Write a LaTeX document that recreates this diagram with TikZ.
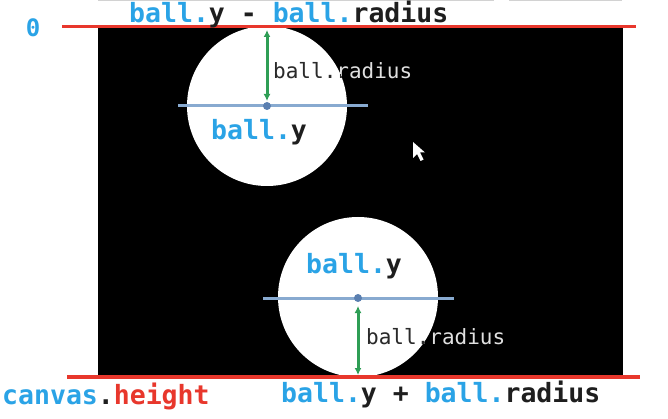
\documentclass[tikz,border=0pt]{standalone}
\usepackage{fontspec}
\setmonofont{DejaVu Sans Mono}
\usetikzlibrary{arrows.meta}
\definecolor{cblue}{HTML}{2AA3E6}
\definecolor{cred}{HTML}{E8372C}
\definecolor{cgreen}{HTML}{2E9E55}
\definecolor{cline}{HTML}{88AAD0}
\definecolor{cdot}{HTML}{5A7FB0}
\definecolor{ctext}{HTML}{1E1E1E}
\definecolor{dgray}{HTML}{2A2A2A}
\definecolor{lgray}{HTML}{E0E0E0}
\tikzset{
  ballshape/.style={circle, fill=white, draw=none, inner sep=0pt, minimum size=160pt},
  redline/.style={draw=cred, line width=3.5pt},
  bline/.style={draw=cline, line width=3pt},
  garrow/.style={draw=cgreen, line width=3pt, arrows={Latex[length=7pt,width=7pt]-Latex[length=7pt,width=7pt]}},
  biglbl/.style={inner sep=0pt, text=ctext, font=\ttfamily\bfseries\fontsize{26.5}{30}\selectfont},
  smalllbl/.style={inner sep=0pt, font=\ttfamily\fontsize{21}{24}\selectfont},
}
\begin{document}
\begin{tikzpicture}[x=1pt,y=-1pt]
\useasboundingbox (0,0) rectangle (668,419);
\fill[white] (0,0) rectangle (668,419);
% faint cut-off boxes at top
\draw[gray!35, line width=1pt] (98,0.5) -- (494,0.5);
\draw[gray!35, line width=1pt] (509,0.5) -- (622,0.5);
% canvas
\fill[black] (98,27) rectangle (623,376);
% balls
\node[ballshape] (b1) at (267,106) {};
\node[ballshape] (b2) at (358,297) {};
% red boundary lines
\coordinate (t0) at (62,26.5);
\coordinate (t1) at (636,26.5);
\coordinate (u0) at (67,377);
\coordinate (u1) at (640,377);
\draw[redline] (t0) -- (t1);
\draw[redline] (u0) -- (u1);
% blue center lines
\coordinate (l1a) at (178,106);
\coordinate (l1b) at (368,106);
\coordinate (l2a) at (263,298);
\coordinate (l2b) at (454,298);
\draw[bline] (l1a) -- (l1b);
\draw[bline] (l2a) -- (l2b);
\fill[cdot] (b1.center) circle (4pt);
\fill[cdot] (358,298) circle (4pt);
% green radius arrows
\coordinate (g1a) at (267,30);
\coordinate (g1b) at (267,101);
\coordinate (g2a) at (358,306);
\coordinate (g2b) at (358,375);
\draw[garrow] (g1a) -- (g1b);
\draw[garrow] (g2a) -- (g2b);
% radius labels (dark on white, light on black)
\node[smalllbl, text=lgray, anchor=base west] (r1) at (273,79) {ball.radius};
\begin{scope}
  \clip (267,106) circle[radius=80pt];
  \node[smalllbl, text=dgray, anchor=base west] at (273,79) {ball.radius};
\end{scope}
\node[smalllbl, text=lgray, anchor=base west] (r2) at (366,344) {ball.radius};
\begin{scope}
  \clip (358,297) circle[radius=80pt];
  \node[smalllbl, text=dgray, anchor=base west] at (366,344) {ball.radius};
\end{scope}
% main labels
\node[biglbl, anchor=base west] (top) at (129,23) {\textcolor{cblue}{ball.}y - \textcolor{cblue}{ball.}radius};
\node[biglbl, text=cblue, font=\ttfamily\bfseries\fontsize{24}{28}\selectfont] (zero) at (33,28) {0};
\node[biglbl, anchor=base west] (y1) at (211,140) {\textcolor{cblue}{ball.}y};
\node[biglbl, anchor=base west] (y2) at (306,273) {\textcolor{cblue}{ball.}y};
\node[biglbl, anchor=base west] (ch) at (2,404) {\textcolor{cblue}{canvas}.\textcolor{cred}{height}};
\node[biglbl, anchor=base west] (bot) at (281,402) {\textcolor{cblue}{ball.}y + \textcolor{cblue}{ball.}radius};
% mouse cursor
\fill[white] (413,142) -- (413,158) -- (417,154) -- (420.5,161) -- (423.5,159.5) -- (420,152.5) -- (425,152.5) -- cycle;
\end{tikzpicture}
\end{document}
